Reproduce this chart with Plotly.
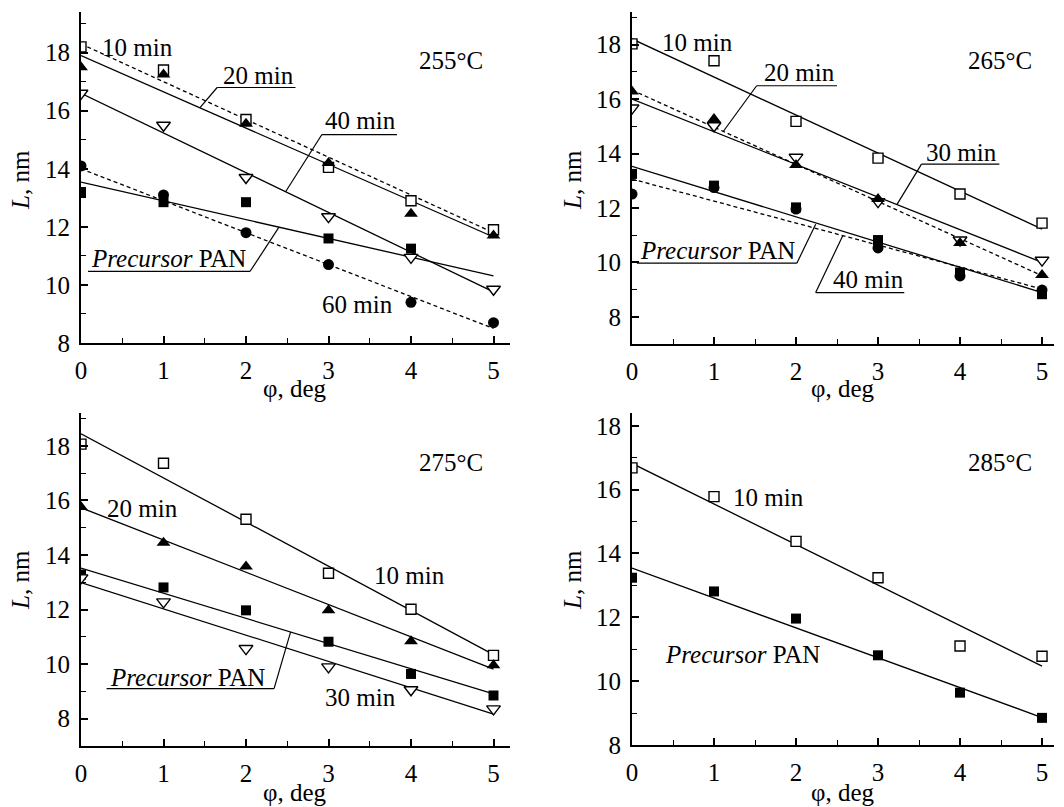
import plotly.graph_objects as go

# ---------------- data ----------------
phi = [0, 1, 2, 3, 4, 5]
phi_pan255 = [0, 1, 2, 3, 4]
fit_x = [0, 5]

# 255 °C
p255_10 = [18.2, 17.4, 15.7, 14.05, 12.9, 11.9]
p255_20 = [17.5, 17.25, 15.55, 14.2, 12.45, 11.7]
p255_40 = [16.6, 15.5, 13.7, 12.35, 10.95, 9.85]
p255_60 = [14.1, 13.1, 11.8, 10.7, 9.4, 8.7]
p255_pan = [13.2, 12.85, 12.85, 11.6, 11.25]
f255_10 = [18.3, 11.8]
f255_20 = [17.9, 11.65]
f255_40 = [16.6, 9.76]
f255_60 = [14.0, 8.5]
f255_pan = [13.54, 10.31]

# 265 °C
p265_10 = [18.03, 17.41, 15.18, 13.83, 12.51, 11.44]
p265_20 = [16.28, 15.27, 13.58, 12.33, 10.71, 9.54]
p265_30 = [15.67, 15.02, 13.86, 12.23, 10.82, 10.08]
p265_40 = [12.51, 12.75, 11.96, 10.53, 9.5, 8.98]
p265_pan = [13.25, 12.82, 12.02, 10.82, 9.63, 8.83]
f265_10 = [18.21, 11.22]
f265_20 = [16.33, 9.51]
f265_30 = [16.0, 10.0]
f265_pan = [13.53, 8.89]
f265_40 = [13.06, 9.02]

# 275 °C
p275_10 = [18.06, 17.36, 15.31, 13.33, 12.01, 10.32]
p275_20 = [15.76, 14.45, 13.58, 11.97, 10.84, 9.96]
p275_pan = [13.28, 12.81, 11.97, 10.82, 9.64, 8.85]
p275_30 = [13.16, 12.28, 10.57, 9.9, 9.06, 8.36]
f275_10 = [18.44, 10.35]
f275_20 = [15.73, 9.82]
f275_pan = [13.52, 8.91]
f275_30 = [12.99, 8.17]

# 285 °C
p285_10 = [16.68, 15.78, 14.38, 13.24, 11.1, 10.78]
p285_pan = [13.24, 12.81, 11.96, 10.81, 9.64, 8.85]
f285_10 = [16.82, 10.47]
f285_pan = [13.54, 8.86]

temps = ["255°C", "265°C", "275°C", "285°C"]
x_title = "φ, deg"
y_title = "<i>L</i>, nm"
pan_label = "<i>Precursor</i> PAN"

# ---------------- styles ----------------
FONT = "Liberation Serif, Times New Roman, serif"
FS = 25
BLACK = "black"
MK = {
    "sq_open": dict(symbol="square", size=10, color="white", line=dict(color=BLACK, width=1.4)),
    "sq": dict(symbol="square", size=10, color=BLACK, line=dict(color=BLACK, width=0)),
    "tri": dict(symbol="triangle-up", size=12, color=BLACK, line=dict(color=BLACK, width=0)),
    "tri_open": dict(symbol="triangle-down", size=12, color="white", line=dict(color=BLACK, width=1.4)),
    "circ": dict(symbol="circle", size=11, color=BLACK, line=dict(color=BLACK, width=0)),
}

fig = go.Figure()


def add_line(ax, y, dashed=False):
    fig.add_trace(go.Scatter(
        x=fit_x, y=y, mode="lines", xaxis="x" + ax, yaxis="y" + ax,
        line=dict(color=BLACK, width=1.3, dash="4px,3px" if dashed else "solid"),
        showlegend=False, hoverinfo="skip"))


def add_pts(ax, x, y, mk):
    fig.add_trace(go.Scatter(
        x=x, y=y, mode="markers", xaxis="x" + ax, yaxis="y" + ax,
        marker=MK[mk], showlegend=False))


# panel 1 (255)
add_line("", f255_10, True)
add_line("", f255_20)
add_line("", f255_40)
add_line("", f255_60, True)
add_line("", f255_pan)
add_pts("", phi, p255_10, "sq_open")
add_pts("", phi, p255_40, "tri_open")
add_pts("", phi, p255_60, "circ")
add_pts("", phi_pan255, p255_pan, "sq")
add_pts("", phi, p255_20, "tri")

# panel 2 (265)
add_line("2", f265_10)
add_line("2", f265_20, True)
add_line("2", f265_30)
add_line("2", f265_pan)
add_line("2", f265_40, True)
add_pts("2", phi, p265_10, "sq_open")
add_pts("2", phi, p265_30, "tri_open")
add_pts("2", phi, p265_20, "tri")
add_pts("2", phi, p265_40, "circ")
add_pts("2", phi, p265_pan, "sq")

# panel 3 (275)
add_line("3", f275_10)
add_line("3", f275_20)
add_line("3", f275_pan)
add_line("3", f275_30)
add_pts("3", phi, p275_10, "sq_open")
add_pts("3", phi, p275_20, "tri")
add_pts("3", phi, p275_pan, "sq")
add_pts("3", phi, p275_30, "tri_open")

# panel 4 (285)
add_line("4", f285_10)
add_line("4", f285_pan)
add_pts("4", phi, p285_10, "sq_open")
add_pts("4", phi, p285_pan, "sq")

# ---------------- axes ----------------
def xax(domain, rng, anchor):
    return dict(domain=domain, range=rng, anchor=anchor, showline=True, linecolor=BLACK,
                linewidth=2, ticks="inside", ticklen=7, tickwidth=1.5, tickcolor=BLACK,
                tick0=0, dtick=1, showgrid=False, zeroline=False, automargin=False,
                minor=dict(ticks="inside", ticklen=5, tickwidth=1.2, tickcolor=BLACK, dtick=0.5, showgrid=False),
                tickfont=dict(family=FONT, size=FS, color=BLACK), ticklabelstandoff=4)


def yax(domain, rng, anchor):
    return dict(domain=domain, range=rng, anchor=anchor, showline=True, linecolor=BLACK,
                linewidth=2, ticks="inside", ticklen=7, tickwidth=1.5, tickcolor=BLACK,
                tick0=0, dtick=2, showgrid=False, zeroline=False, automargin=False,
                minor=dict(ticks="inside", ticklen=5, tickwidth=1.2, tickcolor=BLACK, dtick=1, showgrid=False),
                tickfont=dict(family=FONT, size=FS, color=BLACK), ticklabelstandoff=4)


XL = [81 / 1064, 510 / 1064]
XR = [632 / 1064, 1054 / 1064]
YT1 = [1 - 343 / 807, 1 - 12 / 807]
YT2 = [1 - 344 / 807, 1 - 12 / 807]
YB3 = [1 - 746 / 807, 1 - 413 / 807]
YB4 = [1 - 745 / 807, 1 - 413 / 807]

fig.update_layout(
    width=1064, height=807, autosize=False,
    margin=dict(l=0, r=0, t=0, b=0),
    paper_bgcolor="white", plot_bgcolor="white",
    font=dict(family=FONT, size=FS, color=BLACK),
    xaxis=xax(XL, [0, 5.2], "y"), yaxis=yax(YT1, [8, 19.4], "x"),
    xaxis2=xax(XR, [0, 5.146], "y2"), yaxis2=yax(YT2, [7, 19.2], "x2"),
    xaxis3=xax(XL, [0, 5.2], "y3"), yaxis3=yax(YB3, [7, 19.2], "x3"),
    xaxis4=xax(XR, [0, 5.146], "y4"), yaxis4=yax(YB4, [8, 18.4], "x4"),
)

ann = []
shapes = []


def text(ax, x, y, t):
    ann.append(dict(x=x, y=y, xref="x" + ax, yref="y" + ax, text=t, showarrow=False,
                    font=dict(family=FONT, size=FS, color=BLACK), xanchor="center", yanchor="middle"))


def seg(ax, x0, y0, x1, y1):
    shapes.append(dict(type="line", xref="x" + ax, yref="y" + ax, x0=x0, y0=y0, x1=x1, y1=y1,
                       line=dict(color=BLACK, width=1.2)))


# panel 1 labels
text("", 0.68, 18.17, "10 min")
text("", 2.15, 17.21, "20 min")
seg("", 1.65, 16.80, 2.60, 16.80)
seg("", 1.65, 16.80, 1.44, 16.10)
text("", 3.39, 15.66, "40 min")
seg("", 2.92, 15.18, 3.83, 15.18)
seg("", 2.92, 15.18, 2.48, 13.21)
text("", 1.06, 10.92, pan_label)
seg("", 0.085, 10.47, 2.05, 10.47)
seg("", 2.05, 10.47, 2.40, 11.99)
text("", 3.35, 9.31, "60 min")
text("", 4.49, 17.73, temps[0])

# panel 2 labels
text("2", 0.80, 18.07, "10 min")
text("2", 2.04, 16.97, "20 min")
seg("2", 1.52, 16.49, 2.50, 16.49)
seg("2", 1.52, 16.49, 1.11, 14.80)
text("2", 4.02, 14.03, "30 min")
seg("2", 3.53, 13.61, 4.48, 13.61)
seg("2", 3.53, 13.61, 3.23, 12.12)
text("2", 1.04, 10.43, pan_label)
seg("2", 0.06, 9.97, 2.01, 9.97)
seg("2", 2.01, 9.97, 2.24, 11.40)
text("2", 2.88, 9.36, "40 min")
seg("2", 2.24, 8.89, 3.32, 8.89)
seg("2", 2.24, 8.89, 2.57, 10.98)
text("2", 4.49, 17.41, temps[1])

# panel 3 labels
text("3", 0.75, 15.71, "20 min")
text("3", 3.98, 13.24, "10 min")
text("3", 3.39, 8.77, "30 min")
text("3", 1.29, 9.51, pan_label)
seg("3", 0.31, 9.10, 2.34, 9.10)
seg("3", 2.34, 9.10, 2.54, 11.17)
text("3", 4.49, 17.37, temps[2])

# panel 4 labels
text("4", 1.67, 15.75, "10 min")
text("4", 1.35, 10.84, pan_label)
text("4", 4.49, 16.84, temps[3])

# axis titles
for xc, yc in [(295 / 1064, 1 - 389 / 807), (843 / 1064, 1 - 389 / 807),
               (295 / 1064, 1 - 792 / 807), (843 / 1064, 1 - 792 / 807)]:
    ann.append(dict(x=xc, y=yc, xref="paper", yref="paper", text=x_title, showarrow=False,
                    font=dict(family=FONT, size=FS, color=BLACK), xanchor="center", yanchor="middle"))
for xc, yc in [(20 / 1064, 1 - 180 / 807), (572 / 1064, 1 - 180 / 807),
               (20 / 1064, 1 - 580 / 807), (572 / 1064, 1 - 580 / 807)]:
    ann.append(dict(x=xc, y=yc, xref="paper", yref="paper", text=y_title, showarrow=False, textangle=-90,
                    font=dict(family=FONT, size=FS, color=BLACK), xanchor="center", yanchor="middle"))

fig.update_layout(annotations=ann, shapes=shapes)

fig.write_html("out.html", config={"displayModeBar": False},
               post_script="document.body.style.margin='0';")
